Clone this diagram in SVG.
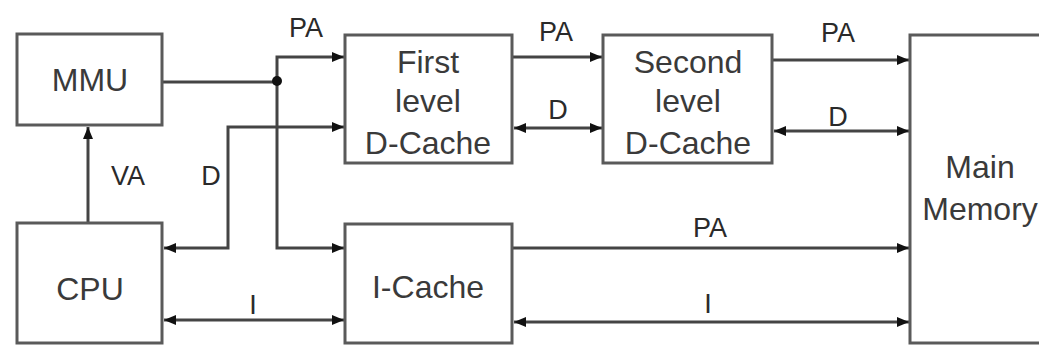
<svg xmlns="http://www.w3.org/2000/svg" width="1039" height="347" viewBox="0 0 1039 347">
  <defs>
    <style>
      .box { fill: #ffffff; stroke: #5a5a5a; stroke-width: 3; }
      .node-text { font-family: "Liberation Sans", Arial, sans-serif; font-size: 32px; fill: #3a3a3a; text-anchor: middle; }
      .label { font-family: "Liberation Sans", Arial, sans-serif; font-size: 27px; fill: #2a2a2a; text-anchor: middle; }
      .wire { fill: none; stroke: #444444; stroke-width: 3; }
      .arrow-end { marker-end: url(#arrow); }
      .arrow-both { marker-start: url(#arrow); marker-end: url(#arrow); }
    </style>
    <marker id="arrow" viewBox="0 0 12 10" refX="12" refY="5" markerWidth="12" markerHeight="10" markerUnits="userSpaceOnUse" orient="auto-start-reverse">
      <path d="M0,0 L12,5 L0,10 z" fill="#111111"/>
    </marker>
  </defs>

  <rect width="1039" height="347" fill="#ffffff"/>

  <!-- connectors -->
  <g id="connectors">
    <!-- CPU to MMU: virtual address -->
    <line class="wire arrow-end" x1="88" y1="223" x2="88" y2="127"/>
    <!-- MMU physical address bus, split at the junction -->
    <line class="wire" x1="162" y1="82" x2="277" y2="82"/>
    <polyline class="wire arrow-end" points="277,82 277,57 344,57"/>
    <polyline class="wire arrow-end" points="277,82 277,248 344,248"/>
    <circle cx="277" cy="81" r="5" fill="#111111"/>
    <!-- CPU data path to first level D-Cache -->
    <polyline class="wire arrow-both" points="164,248 228,248 228,127 344,127"/>
    <!-- CPU instruction path -->
    <line class="wire arrow-both" x1="164" y1="320" x2="344" y2="320"/>
    <!-- first level to second level -->
    <line class="wire arrow-end" x1="512" y1="57" x2="602" y2="57"/>
    <line class="wire arrow-both" x1="514" y1="128" x2="602" y2="128"/>
    <!-- second level to main memory -->
    <line class="wire arrow-end" x1="772" y1="60" x2="909" y2="60"/>
    <line class="wire arrow-both" x1="774" y1="131" x2="909" y2="131"/>
    <!-- I-Cache to main memory -->
    <line class="wire arrow-end" x1="512" y1="248" x2="909" y2="248"/>
    <line class="wire arrow-both" x1="514" y1="322" x2="909" y2="322"/>
  </g>

  <!-- connector labels -->
  <g id="labels">
    <text class="label" x="306" y="37">PA</text>
    <text class="label" x="556" y="41">PA</text>
    <text class="label" x="838" y="42">PA</text>
    <text class="label" x="558" y="119">D</text>
    <text class="label" x="838" y="126">D</text>
    <text class="label" x="128" y="185">VA</text>
    <text class="label" x="211" y="185">D</text>
    <text class="label" x="710" y="237">PA</text>
    <text class="label" x="253" y="314">I</text>
    <text class="label" x="708" y="313">I</text>
  </g>

  <g id="mmu">
    <rect class="box" x="17" y="34" width="145" height="91"/>
    <text class="node-text" x="90" y="91">MMU</text>
  </g>

  <g id="cpu">
    <rect class="box" x="17" y="223" width="145" height="120"/>
    <text class="node-text" x="90" y="300">CPU</text>
  </g>

  <g id="first-level-dcache">
    <rect class="box" x="345" y="35" width="167" height="128"/>
    <text class="node-text" x="428" y="73">First</text>
    <text class="node-text" x="428" y="112">level</text>
    <text class="node-text" x="428" y="154">D-Cache</text>
  </g>

  <g id="second-level-dcache">
    <rect class="box" x="603" y="35" width="169" height="128"/>
    <text class="node-text" x="688" y="73">Second</text>
    <text class="node-text" x="688" y="112">level</text>
    <text class="node-text" x="688" y="154">D-Cache</text>
  </g>

  <g id="icache">
    <rect class="box" x="345" y="224" width="167" height="119"/>
    <text class="node-text" x="428" y="298">I-Cache</text>
  </g>

  <g id="main-memory">
    <rect class="box" x="910" y="35" width="150" height="308"/>
    <text class="node-text" x="980" y="178">Main</text>
    <text class="node-text" x="980" y="220">Memory</text>
  </g>
</svg>
